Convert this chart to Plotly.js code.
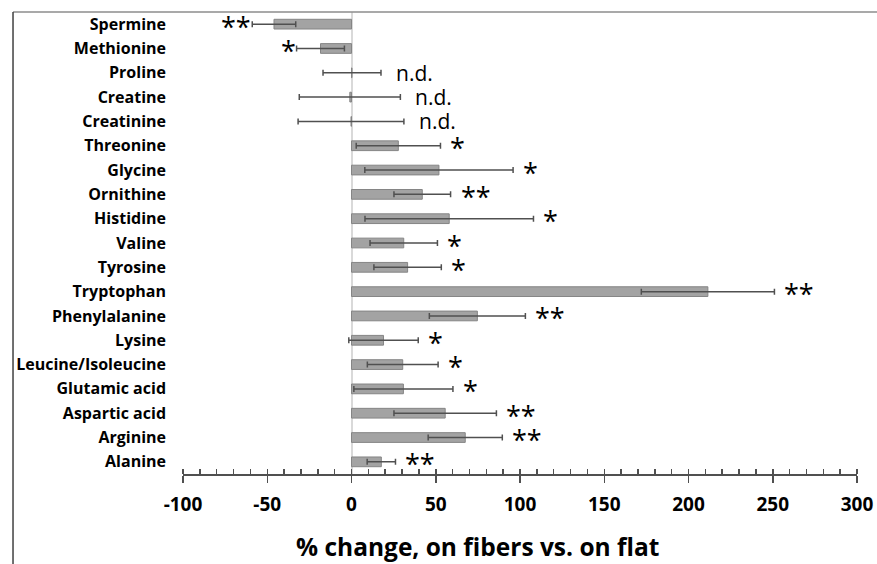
<!DOCTYPE html>
<html>
<head>
<meta charset="utf-8">
<script src="https://cdn.plot.ly/plotly-3.0.1.min.js"></script>
<style>html,body{margin:0;padding:0;background:#fff;}#chart{width:877px;height:564px;}</style>
</head>
<body>
<div id="chart"></div>
<script>
// Categories listed top to bottom
var categories = ["Spermine","Methionine","Proline","Creatine","Creatinine","Threonine","Glycine","Ornithine","Histidine","Valine","Tyrosine","Tryptophan","Phenylalanine","Lysine","Leucine/Isoleucine","Glutamic acid","Aspartic acid","Arginine","Alanine"];
var pctChange = [-46, -18.4, 0.3, -1, -0.3, 27.8, 51.9, 42, 58, 31, 33.3, 211.5, 74.7, 19, 30.4, 30.8, 55.6, 67.5, 17.7];
var errors = [12.9, 14.2, 17.2, 30, 31.4, 25, 44, 16.8, 50, 20, 20, 39.5, 28.5, 20.6, 21, 29.4, 30.4, 22, 8.4];
var significance = ["**","*","n.d.","n.d.","n.d.","*","*","**","*","*","*","**","**","*","*","*","**","**","**"];
var xTickValues = [-100, -50, 0, 50, 100, 150, 200, 250, 300];
var xTitle = "% change, on fibers vs. on flat";

var trace = {
  type: "bar",
  orientation: "h",
  y: categories,
  x: pctChange,
  width: 0.4,
  marker: {color: "#a3a3a3", line: {color: "#858585", width: 1}},
  error_x: {type: "data", array: errors, visible: true, color: "#505050", thickness: 1.5, width: 3},
  hoverinfo: "x+y"
};

var annotations = [];
for (var i = 0; i < categories.length; i++) {
  var v = pctChange[i], e = errors[i], lab = significance[i];
  var isND = lab === "n.d.";
  var neg = v < -5;
  annotations.push({
    x: neg ? v - e : v + e,
    y: categories[i],
    xref: "x", yref: "y",
    text: lab,
    showarrow: false,
    xanchor: neg ? "right" : "left",
    yanchor: "middle",
    xshift: neg ? 1 : (isND ? 13 : 8),
    yshift: isND ? 0 : -2,
    font: isND ? {family: "Open Sans", size: 21, color: "#000"} : {family: "Open Sans", size: 27, color: "#000"}
  });
}
annotations.push({
  xref: "paper", yref: "paper", x: 0.4374, y: -0.158,
  xanchor: "center", yanchor: "middle", showarrow: false,
  text: "<b>" + xTitle + "</b>",
  font: {family: "Open Sans", size: 24.5, color: "#000"}
});

var layout = {
  width: 877, height: 564,
  margin: {l: 183, r: 20, t: 12, b: 90},
  paper_bgcolor: "#fff", plot_bgcolor: "#fff",
  showlegend: false,
  font: {family: "Open Sans", color: "#000"},
  xaxis: {
    range: [-100, 300],
    tickvals: xTickValues,
    ticktext: xTickValues.map(String),
    ticks: "outside", ticklen: 7, tickwidth: 1.5, tickcolor: "#505050",
    minor: {dtick: 10, tick0: 0, ticks: "inside", ticklen: 5, tickwidth: 1.5, tickcolor: "#505050", showgrid: false},
    showline: true, linecolor: "#505050", linewidth: 1.5,
    showgrid: false,
    zeroline: true, zerolinecolor: "#d9d9d9", zerolinewidth: 2,
    tickfont: {family: "Open Sans", size: 19, color: "#000", weight: "bold"},
    ticklabelstandoff: 6,
    fixedrange: true
  },
  xaxis2: {
    overlaying: "x", anchor: "y", side: "bottom",
    range: [-100, 300],
    tickvals: xTickValues,
    ticks: "inside", ticklen: 5, tickwidth: 1.5, tickcolor: "#505050",
    showticklabels: false, showline: false, showgrid: false, zeroline: false,
    fixedrange: true
  },
  yaxis: {
    type: "category",
    categoryorder: "array", categoryarray: categories,
    range: [18.5, -0.5],
    ticks: "", showline: false, showgrid: false, zeroline: false,
    tickfont: {family: "Open Sans", size: 16, color: "#000", weight: "bold"},
    ticklabelstandoff: 16,
    fixedrange: true
  },
  annotations: annotations,
  shapes: [
    {type: "line", xref: "paper", yref: "paper", x0: -0.2522, x1: 1.04, y0: 1, y1: 1, line: {color: "#8c8c8c", width: 1.5}},
    {type: "line", xref: "paper", yref: "paper", x0: -0.2522, x1: -0.2522, y0: 1, y1: -0.21, line: {color: "#404040", width: 1.5}}
  ]
};

Plotly.newPlot("chart", [trace], layout, {displayModeBar: false, staticPlot: true});
</script>
</body>
</html>
